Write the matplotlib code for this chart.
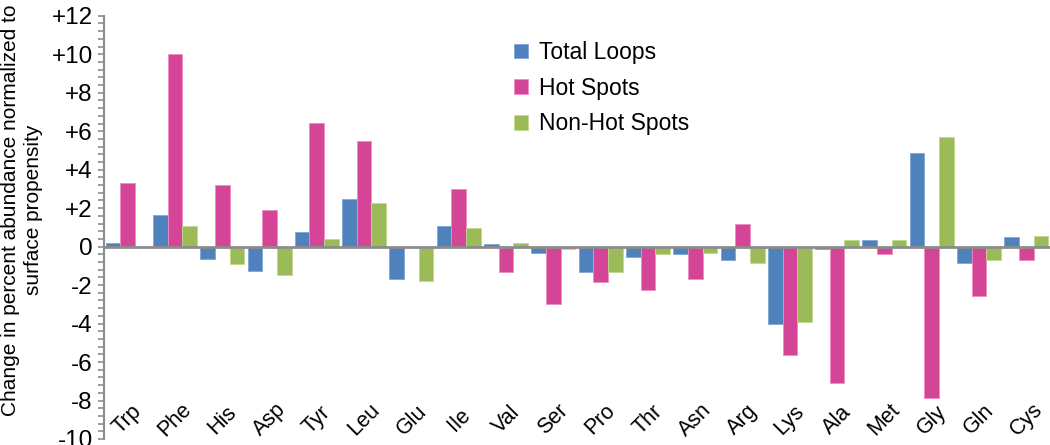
import numpy as np
import matplotlib
matplotlib.use("Agg")
import matplotlib.pyplot as plt
from matplotlib.ticker import MultipleLocator, FuncFormatter

plt.rcParams['font.family'] = ['Liberation Sans', 'DejaVu Sans']

# amino acids on the category axis
residues = ['Trp', 'Phe', 'His', 'Asp', 'Tyr', 'Leu', 'Glu', 'Ile', 'Val', 'Ser',
            'Pro', 'Thr', 'Asn', 'Arg', 'Lys', 'Ala', 'Met', 'Gly', 'Gln', 'Cys']

# values
total_loops = [0.17, 1.65, -0.66, -1.28, 0.78, 2.48, -1.66, 1.09, 0.12, -0.33,
               -1.33, -0.52, -0.40, -0.71, -4.00, -0.14, 0.33, 4.85, -0.83, 0.49]
hot_spots = [3.30, 10.00, 3.20, 1.89, 6.41, 5.49, 0.0, 3.02, -1.33, -2.98,
             -1.82, -2.25, -1.66, 1.16, -5.63, -7.09, -0.36, -7.89, -2.58, -0.71]
non_hot_spots = [0.0, 1.07, -0.90, -1.49, 0.38, 2.25, -1.79, 0.97, 0.21, -0.14,
                 -1.30, -0.40, -0.31, -0.83, -3.90, 0.33, 0.36, 5.70, -0.71, 0.55]

series = [('Total Loops', total_loops, '#4F81BD', '#7FA6D6'),
          ('Hot Spots', hot_spots, '#D54597', '#F08CC4'),
          ('Non-Hot Spots', non_hot_spots, '#9BBB59', '#C2D98F')]

fig = plt.figure(figsize=(10.5, 4.45), dpi=100)
ax = fig.add_axes([0.099, 0.0135, 0.901, 0.951])

x = np.arange(len(residues))
width = 0.31
for i, (name, vals, col, edge) in enumerate(series):
    ax.bar(x + (i - 1) * width, vals, width, color=col, edgecolor=edge,
           linewidth=0.6, label=name, zorder=2)

ax.set_xlim(-0.5, len(residues) - 0.5)
ax.set_ylim(-10, 12)

# zero line
ax.axhline(0, color='#8C8C8C', linewidth=2, zorder=3)

for s in ['top', 'right', 'bottom']:
    ax.spines[s].set_visible(False)
ax.spines['left'].set_color('#8C8C8C')
ax.spines['left'].set_linewidth(1.5)

ax.yaxis.set_major_locator(MultipleLocator(2))
ax.yaxis.set_minor_locator(MultipleLocator(0.4))
ax.yaxis.set_major_formatter(FuncFormatter(lambda v, p: f'+{v:.0f}' if v > 0 else f'{v:.0f}'))
ax.tick_params(axis='y', which='both', direction='out', length=4, width=1.2,
               color='#8C8C8C', labelsize=17.5, pad=4)
ax.set_xticks([])

# category labels sit inside the plot at the bottom
for xi, name in zip(x, residues):
    ax.text(xi, -9.0, name, rotation=45, ha='center', va='center', fontsize=15.5)

fig.text(0.021, 1 - 210 / 445, 'Change in percent abundance normalized to\nsurface propensity',
         rotation=90, ha='center', va='center', fontsize=15, linespacing=1.3,
         multialignment='center')

leg = ax.legend(loc='upper left', bbox_to_anchor=(514 / 1050, 1 - 41 / 445),
                bbox_transform=fig.transFigure, frameon=False, borderpad=0,
                borderaxespad=0, fontsize=16.5, handlelength=0.62, handleheight=0.62,
                handletextpad=0.45, labelspacing=0.55)

fig.savefig('out.png', dpi=100)
